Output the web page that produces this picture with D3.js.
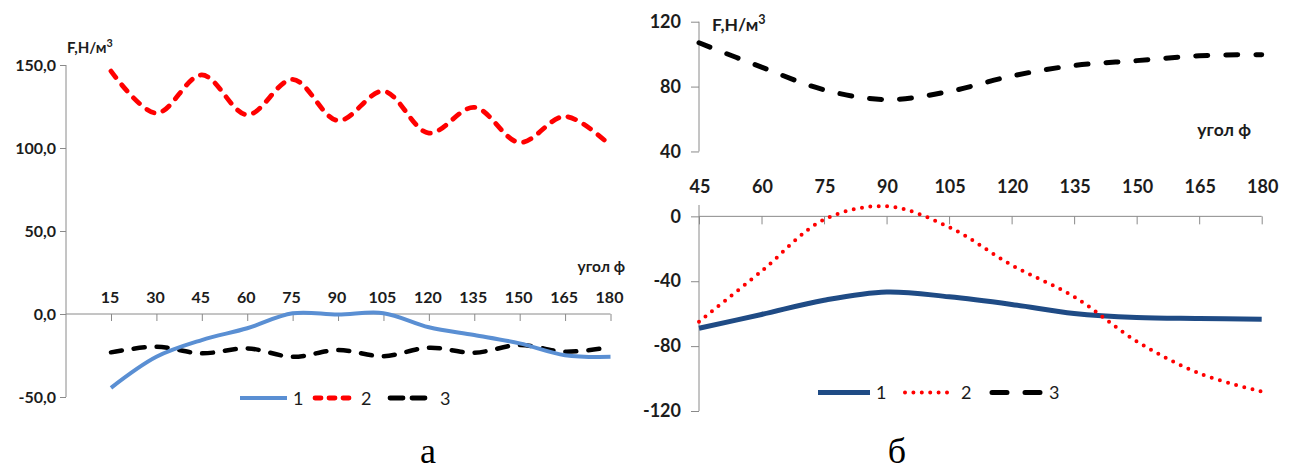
<!DOCTYPE html>
<html>
<head>
<meta charset="utf-8">
<script src="https://cdn.jsdelivr.net/npm/d3@7"></script>
<style>
  html, body { margin: 0; padding: 0; background: #fff; }
  svg { display: block; }
  .tick-label { font-family: Lato, "Open Sans", sans-serif; font-weight: 700; fill: #1c1c1c; }
  .legend-label { font-family: Lato, "Open Sans", sans-serif; font-weight: 400; fill: #1c1c1c; }
  .panel-letter { font-family: "Liberation Serif", "DejaVu Serif", serif; fill: #000; }
</style>
</head>
<body>
<svg id="chart" width="1298" height="471"></svg>
<script>
// ---- Panel "а": force vs. angle, 15..180 deg ----
const angleA = [15, 30, 45, 60, 75, 90, 105, 120, 135, 150, 165, 180];
const seriesA1 = [-44.5, -25.8, -15.7, -8.6, 0.4, -0.3, 0.5, -8, -12.7, -17.7, -24.8, -25.8];
const seriesA2 = [146.3, 121, 144, 120, 141.3, 116.5, 134.2, 109, 124.5, 103.3, 119, 101.4];
const seriesA3 = [-23.1, -19.7, -23.7, -20.7, -25.8, -21.7, -25.4, -20.3, -23.3, -18.7, -22.7, -20];
const yTicksA = [-50, 0, 50, 100, 150];

// ---- Panel "б": force vs. angle, 45..180 deg ----
const angleB = [45, 60, 75, 90, 105, 120, 135, 150, 165, 180];
const seriesB1 = [-69, -60.5, -51.7, -46.6, -49.6, -54.3, -59.9, -62.4, -63, -63.4];
const seriesB2 = [-65, -33.8, -2, 6.2, -6.6, -30, -49.6, -77, -96.8, -108];
const seriesB3 = [107, 92, 78, 72, 77, 86.5, 93, 96, 99, 99.7];
const yTicksB = [-120, -80, -40, 0, 40, 80, 120];

const seriesNames = ["1", "2", "3"];
const yTitle = "F,Н/м";
const xTitle = "угол ф";

const svg = d3.select("#chart");
const axisColor = "#8a8a8a";

const ruLocale = d3.formatLocale({decimal: ",", thousands: " ", grouping: [3], currency: ["", ""], minus: "-"});
const fmtA = ruLocale.format(".1f");
const fmtB = ruLocale.format("d");

const curve = d3.curveCatmullRom.alpha(0.5);

function drawYTitle(g, x, y, size) {
  const t = g.append("text").attr("class", "tick-label").attr("x", x).attr("y", y)
    .style("font-size", size + "px").text(yTitle);
  t.append("tspan").attr("dy", -size * 0.4).style("font-size", (size * 0.72) + "px").text("3");
}

// legend entries are laid out at a fixed pitch
function drawLegend(g, items, x0, pitch, y, fontSize) {
  items.forEach((it, i) => {
    const x = x0 + i * pitch;
    g.append("line").attr("x1", x).attr("x2", x + it.len).attr("y1", y).attr("y2", y)
      .attr("stroke", it.color).attr("stroke-width", it.width)
      .attr("stroke-dasharray", it.dash || null)
      .attr("stroke-linecap", it.cap || "butt");
    g.append("text").attr("class", "legend-label").attr("x", x + it.len + 6).attr("y", y + 6.5)
      .style("font-size", fontSize + "px").text(it.name);
  });
}

// ================= Panel а =================
{
  const g = svg.append("g");
  const x = d3.scaleLinear().domain([15, 180]).range([111, 610.5]);
  const y = d3.scaleLinear().domain([-50, 150]).range([397, 65]);
  const axisX = 66;

  // value axis
  const yAxis = d3.axisLeft(y).tickValues(yTicksA).tickSize(6).tickPadding(4).tickFormat(fmtA);
  const ya = g.append("g").attr("transform", `translate(${axisX},0)`).call(yAxis);
  ya.select(".domain").attr("stroke", axisColor).attr("d", `M0,${y(150)}V${y(-50)}`);
  ya.selectAll(".tick line").attr("stroke", axisColor);
  ya.selectAll(".tick text").attr("class", "tick-label").style("font-size", "16px")
    .attr("fill", "#1c1c1c").attr("font-family", null);

  // category axis along zero
  const xAxis = d3.axisBottom(x).tickValues(angleA).tickSize(7).tickFormat("");
  const xa = g.append("g").attr("transform", `translate(0,${y(0)})`).call(xAxis);
  xa.select(".domain").attr("stroke", axisColor).attr("d", `M${axisX},0H${x(180)}`);
  xa.selectAll(".tick line").attr("stroke", axisColor);

  g.selectAll(".xlab").data(angleA).join("text").attr("class", "tick-label")
    .attr("x", d => x(d) - 1).attr("y", 303).attr("text-anchor", "middle")
    .style("font-size", "16px").text(d => d);

  g.append("text").attr("class", "tick-label").attr("x", 625).attr("y", 272)
    .attr("text-anchor", "end").style("font-size", "15.5px").text(xTitle);
  drawYTitle(g, 67, 53, 15);

  const line = d3.line().x((d, i) => x(angleA[i])).y(d => y(d)).curve(curve);
  g.append("path").attr("d", line(seriesA3)).attr("fill", "none").attr("stroke", "#000")
    .attr("stroke-width", 4.5).attr("stroke-dasharray", "11,12").attr("stroke-linecap", "round");
  g.append("path").attr("d", line(seriesA1)).attr("fill", "none").attr("stroke", "#5a8fd3")
    .attr("stroke-width", 4);
  g.append("path").attr("d", line(seriesA2)).attr("fill", "none").attr("stroke", "#ff0000")
    .attr("stroke-width", 4.8).attr("stroke-dasharray", "8,9.5").attr("stroke-linecap", "round");

  drawLegend(g, [
    {name: seriesNames[0], color: "#5a8fd3", width: 4, len: 47},
    {name: seriesNames[1], color: "#ff0000", width: 4.8, len: 40, dash: "6,8", cap: "round"},
    {name: seriesNames[2], color: "#000", width: 4.8, len: 44, dash: "13,9", cap: "round"}
  ], 240, 75, 398, 18);

  g.append("text").attr("class", "panel-letter").attr("x", 428).attr("y", 463)
    .attr("text-anchor", "middle").style("font-size", "36px").text("а");
}

// ================= Panel б =================
{
  const g = svg.append("g");
  const x = d3.scaleLinear().domain([45, 180]).range([699, 1261.7]);
  const y = d3.scaleLinear().domain([-120, 120]).range([411, 21.7]);
  const axisX = 699;

  const yAxis = d3.axisLeft(y).tickValues(yTicksB).tickSize(8).tickPadding(10).tickFormat(fmtB);
  const ya = g.append("g").attr("transform", `translate(${axisX},0)`).call(yAxis);
  // axis line is interrupted where the category labels sit
  ya.select(".domain").attr("stroke", axisColor)
    .attr("d", `M0,${y(120)}V${y(40)}M0,${y(7)}V${y(-120)}`);
  ya.selectAll(".tick line").attr("stroke", axisColor);
  ya.selectAll(".tick text").attr("class", "tick-label").style("font-size", "18px")
    .attr("fill", "#1c1c1c").attr("font-family", null);

  const xAxis = d3.axisBottom(x).tickValues(angleB).tickSize(8).tickFormat("");
  const xa = g.append("g").attr("transform", `translate(0,${y(0)})`).call(xAxis);
  xa.select(".domain").attr("stroke", axisColor).attr("d", `M${axisX},0H${x(180)}`);
  xa.selectAll(".tick line").attr("stroke", axisColor);

  g.selectAll(".xlab").data(angleB).join("text").attr("class", "tick-label")
    .attr("x", d => x(d) + 1).attr("y", 193).attr("text-anchor", "middle")
    .style("font-size", "18px").text(d => d);

  g.append("text").attr("class", "tick-label").attr("x", 1251).attr("y", 136)
    .attr("text-anchor", "end").style("font-size", "17.5px").text(xTitle);
  drawYTitle(g, 712, 31, 17.5);

  const line = d3.line().x((d, i) => x(angleB[i])).y(d => y(d)).curve(curve);
  g.append("path").attr("d", line(seriesB3)).attr("fill", "none").attr("stroke", "#000")
    .attr("stroke-width", 5).attr("stroke-dasharray", "12,18").attr("stroke-linecap", "round");
  g.append("path").attr("d", line(seriesB1)).attr("fill", "none").attr("stroke", "#1f4b85")
    .attr("stroke-width", 5);
  g.append("path").attr("d", line(seriesB2)).attr("fill", "none").attr("stroke", "#ff0000")
    .attr("stroke-width", 4).attr("stroke-dasharray", "0,8.4").attr("stroke-linecap", "round");

  drawLegend(g, [
    {name: seriesNames[0], color: "#1f4b85", width: 5, len: 52},
    {name: seriesNames[1], color: "#ff0000", width: 4, len: 50, dash: "0,8.4", cap: "round"},
    {name: seriesNames[2], color: "#000", width: 5, len: 51, dash: "15,18", cap: "round"}
  ], 818, 87, 392.5, 18);

  g.append("text").attr("class", "panel-letter").attr("x", 897).attr("y", 463)
    .attr("text-anchor", "middle").style("font-size", "36px").text("б");
}
</script>
</body>
</html>
